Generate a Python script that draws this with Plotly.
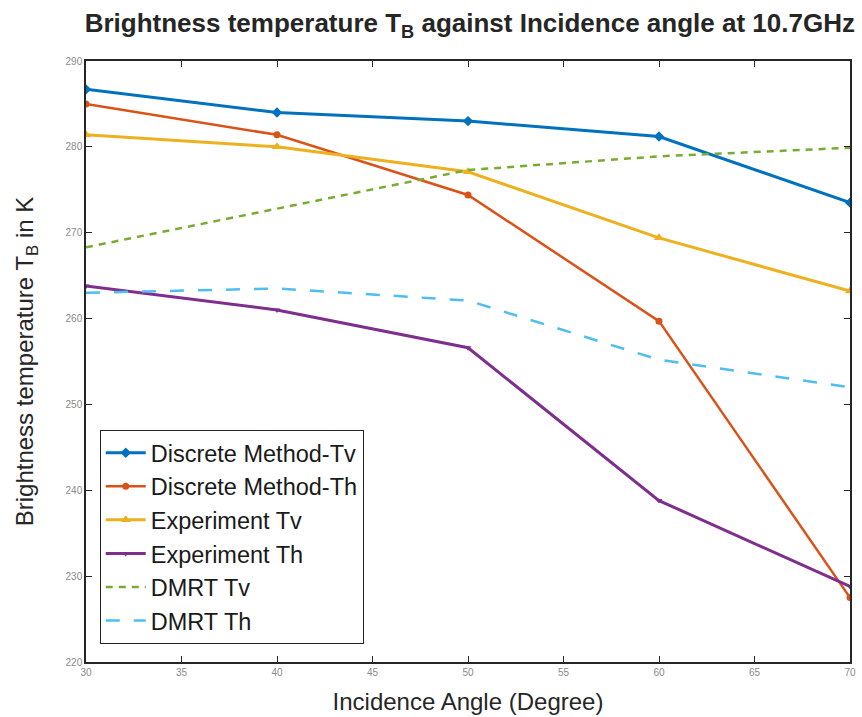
import plotly.graph_objects as go

angles = [30, 40, 50, 60, 70]
discrete_tv = [286.7, 284.0, 283.0, 281.2, 273.5]
discrete_th = [285.0, 281.4, 274.4, 259.7, 227.5]
experiment_tv = [281.4, 280.0, 277.1, 269.4, 263.2]
experiment_th = [263.8, 261.0, 256.6, 238.8, 228.8]
dmrt_tv = [268.3, 272.8, 277.3, 278.9, 279.9]
dmrt_th = [263.0, 263.5, 262.1, 255.2, 252.0]

series_names = ["Discrete Method-Tv", "Discrete Method-Th", "Experiment Tv",
                "Experiment Th", "DMRT Tv", "DMRT Th"]
x_ticks = [30, 35, 40, 45, 50, 55, 60, 65, 70]
y_ticks = [220, 230, 240, 250, 260, 270, 280, 290]

FONT = "Liberation Sans, Arial, sans-serif"

fig = go.Figure()
fig.add_trace(go.Scatter(x=angles, y=discrete_tv, name=series_names[0], mode="lines+markers",
                         line=dict(color="#0072BD", width=3),
                         marker=dict(symbol="diamond", size=8, color="#0072BD")))
fig.add_trace(go.Scatter(x=angles, y=discrete_th, name=series_names[1], mode="lines+markers",
                         line=dict(color="#D95319", width=2.5),
                         marker=dict(symbol="circle", size=7, color="#D95319")))
fig.add_trace(go.Scatter(x=angles, y=experiment_tv, name=series_names[2], mode="lines+markers",
                         line=dict(color="#EDB120", width=3),
                         marker=dict(symbol="triangle-up", size=9, color="#EDB120")))
fig.add_trace(go.Scatter(x=angles, y=experiment_th, name=series_names[3], mode="lines+markers",
                         line=dict(color="#7E2F8E", width=3),
                         marker=dict(symbol="triangle-down", size=6, color="#7E2F8E")))
fig.add_trace(go.Scatter(x=angles, y=dmrt_tv, name=series_names[4], mode="lines",
                         line=dict(color="#77AC30", width=2.5, dash="7px,6px")))
fig.add_trace(go.Scatter(x=angles, y=dmrt_th, name=series_names[5], mode="lines",
                         line=dict(color="#4DBEEE", width=2.5, dash="14px,14px")))

fig.update_layout(
    width=862, height=717,
    margin=dict(l=86, r=6, t=61, b=54),
    paper_bgcolor="white", plot_bgcolor="white",
    font=dict(family=FONT, color="#262626"),
    title=dict(text="<b>Brightness temperature T<sub>B</sub> against Incidence angle at 10.7GHz</b>",
               x=0.545, xanchor="center", y=0.968, yanchor="middle",
               font=dict(size=26, color="#262626", family=FONT)),
    showlegend=True,
    legend=dict(x=0.018, y=0.03, xanchor="left", yanchor="bottom",
                bgcolor="white", bordercolor="#262626", borderwidth=1,
                font=dict(size=23.5, color="#1a1a1a", family=FONT),
                tracegroupgap=0, itemwidth=40),
    hovermode=False,
)
fig.update_xaxes(range=[30, 70], tickvals=x_ticks, ticktext=[str(v) for v in x_ticks],
                 ticks="inside", ticklen=6, tickcolor="#262626", showline=True,
                 linecolor="#262626", linewidth=1.5, mirror="ticks", showgrid=False,
                 zeroline=False, tickfont=dict(size=10, color="#8a8a8a"),
                 title=dict(text="Incidence Angle (Degree)", font=dict(size=24, color="#262626"),
                            standoff=16))
fig.update_yaxes(range=[220, 290], tickvals=y_ticks, ticktext=[str(v) for v in y_ticks],
                 ticks="inside", ticklen=6, tickcolor="#262626", showline=True,
                 linecolor="#262626", linewidth=1.5, mirror="ticks", showgrid=False,
                 zeroline=False, tickfont=dict(size=10, color="#8a8a8a"),
                 title=dict(text="Brightness temperature T<sub>B</sub> in K",
                            font=dict(size=24, color="#262626"), standoff=25))

fig.write_html("out.html", config={"displayModeBar": False},
               post_script="document.body.style.margin='0';document.body.style.overflow='hidden';")
